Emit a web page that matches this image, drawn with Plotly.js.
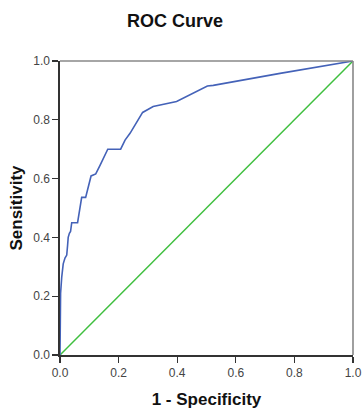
<!DOCTYPE html>
<html>
<head>
<meta charset="utf-8">
<script src="https://cdn.plot.ly/plotly-3.0.1.min.js"></script>
<style>html,body{margin:0;padding:0;background:#fff}#chart{width:362px;height:409px}</style>
</head>
<body>
<div id="chart"></div>
<script>
const fpr = [0, 0, 0.002, 0.006, 0.011, 0.017, 0.023, 0.026, 0.028, 0.032, 0.036, 0.040, 0.060, 0.074, 0.0875, 0.106, 0.122, 0.137, 0.163, 0.207, 0.222, 0.239, 0.282, 0.318, 0.398, 0.503, 0.523, 0.751, 1];
const tpr = [0, 0.19, 0.21, 0.266, 0.31, 0.33, 0.34, 0.374, 0.40, 0.414, 0.42, 0.45, 0.45, 0.536, 0.536, 0.609, 0.616, 0.646, 0.70, 0.70, 0.731, 0.754, 0.825, 0.845, 0.862, 0.915, 0.917, 0.958, 1];
const refX = [0, 1];
const refY = [0, 1];
const tickVals = [0, 0.2, 0.4, 0.6, 0.8, 1.0];
const tickText = ["0.0", "0.2", "0.4", "0.6", "0.8", "1.0"];

const font = "Liberation Sans, Arial, sans-serif";
const traces = [
  {x: refX, y: refY, type: "scatter", mode: "lines", line: {color: "#3fbf3f", width: 1.5}, hoverinfo: "skip"},
  {x: fpr, y: tpr, type: "scatter", mode: "lines", line: {color: "#4462b8", width: 1.6}, hoverinfo: "skip"}
];
const axisCommon = {
  range: [0, 1], tickvals: tickVals, ticktext: tickText,
  showgrid: false, zeroline: false, showline: true, linecolor: "#333", linewidth: 1.6,
  ticks: "outside", ticklen: 6, tickwidth: 1.3, tickcolor: "#333",
  tickfont: {family: font, size: 12, color: "#444"}, fixedrange: true
};
const layout = {
  width: 362, height: 409,
  margin: {l: 60, r: 9, t: 61, b: 54},
  paper_bgcolor: "#fff", plot_bgcolor: "#fff",
  showlegend: false,
  title: {text: "<b>ROC Curve</b>", font: {family: font, size: 18, color: "#111"}, x: 175/362, xanchor: "center", xref: "container", y: 1 - 21/409, yanchor: "middle", yref: "container"},
  xaxis: Object.assign({}, axisCommon, {title: {text: "<b>1 - Specificity</b>", font: {family: font, size: 17, color: "#111"}, standoff: 14}}),
  yaxis: Object.assign({}, axisCommon, {title: {text: "<b>Sensitivity</b>", font: {family: font, size: 17, color: "#111"}, standoff: 6}}),
  shapes: [
    {type: "line", xref: "paper", yref: "paper", x0: 0, x1: 1, y0: 1, y1: 1, line: {color: "#888", width: 1.6}},
    {type: "line", xref: "paper", yref: "paper", x0: 1, x1: 1, y0: 0, y1: 1, line: {color: "#888", width: 1.6}}
  ]
};
Plotly.newPlot("chart", traces, layout, {staticPlot: true, displayModeBar: false});
</script>
</body>
</html>
